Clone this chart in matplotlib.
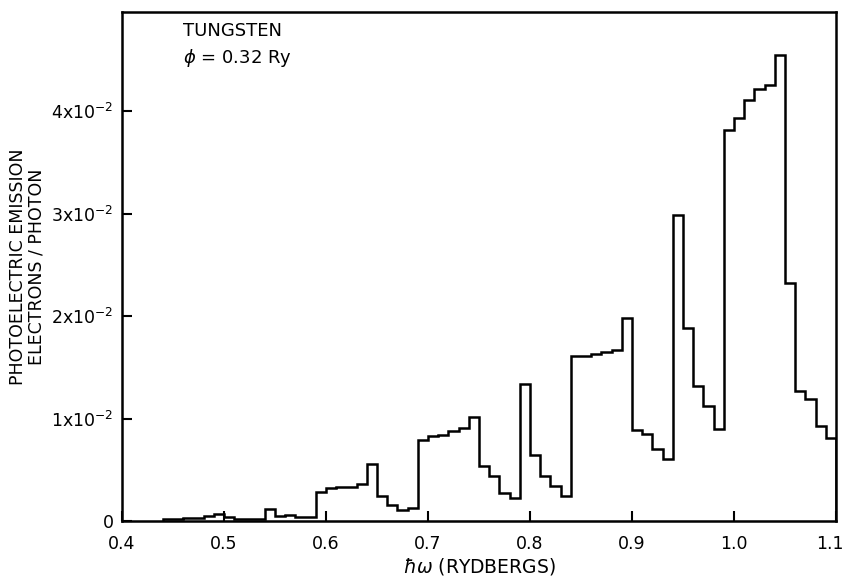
import matplotlib
matplotlib.use("Agg")
import matplotlib.pyplot as plt
import matplotlib.transforms as mtransforms
import numpy as np

# bin edges (Rydbergs) and emission yield per bin
edges = np.round(np.arange(0.44, 1.1001, 0.01), 2)
yield_ = [0.0002, 0.0002, 0.0003, 0.0003, 0.0005, 0.0007, 0.0004, 0.0002, 0.0002, 0.0002,
          0.0012, 0.0005, 0.0006, 0.0004, 0.0004, 0.0028, 0.0032, 0.0033, 0.0033, 0.0036,
          0.0056, 0.0024, 0.0016, 0.0011, 0.0013, 0.0079, 0.0083, 0.0084, 0.0088, 0.0091,
          0.0102, 0.0054, 0.0044, 0.0027, 0.0022, 0.0134, 0.0064, 0.0044, 0.0034, 0.0024,
          0.0161, 0.0161, 0.0163, 0.0165, 0.0167, 0.0198, 0.0089, 0.0085, 0.0070, 0.0061,
          0.0299, 0.0188, 0.0132, 0.0112, 0.0090, 0.0382, 0.0394, 0.0411, 0.0422, 0.0426,
          0.0455, 0.0232, 0.0127, 0.0119, 0.0093, 0.0081]

xticks = [0.4, 0.5, 0.6, 0.7, 0.8, 0.9, 1.0, 1.1]
xticklabels = ["0.4", "0.5", "0.6", "0.7", "0.8", "0.9", "1.0", "1.1"]
yticks = [0, 0.01, 0.02, 0.03, 0.04]
yticklabels = ["0", "1x10$^{-2}$", "2x10$^{-2}$", "3x10$^{-2}$", "4x10$^{-2}$"]

plt.rcParams['font.family'] = ['DejaVu Sans']
fig = plt.figure(figsize=(8.43, 5.79), dpi=100)
ax = fig.add_axes([0.1447, 0.1002, 0.8470, 0.8790])

ax.stairs(yield_, edges, baseline=0, color="black", linewidth=1.8)

ax.set_xlim(0.4, 1.1)
ax.set_ylim(0, 0.0497)
ax.set_xticks(xticks)
ax.set_xticklabels(xticklabels)
ax.set_yticks(yticks)
ax.set_yticklabels(yticklabels)
ax.tick_params(direction="in", length=7, width=1.5, labelsize=12.5)
ax.tick_params(axis="x", pad=10)
ax.tick_params(axis="y", pad=6)
for s in ax.spines.values():
    s.set_linewidth(1.8)

# keep the last x label inside the picture
last = ax.get_xticklabels()[-1]
last.set_transform(last.get_transform() +
                   mtransforms.ScaledTranslation(-6 / 100, 0, fig.dpi_scale_trans))

ax.set_xlabel(r"$\hbar\omega$ (RYDBERGS)", fontsize=13.5, labelpad=2)
ax.set_ylabel("PHOTOELECTRIC EMISSION\nELECTRONS / PHOTON", fontsize=12.5,
              labelpad=4, linespacing=1.05)

ax.text(0.085, 0.962, "TUNGSTEN", transform=ax.transAxes, fontsize=13, va="center")
ax.text(0.085, 0.910, r"$\phi$ = 0.32 Ry", transform=ax.transAxes, fontsize=13, va="center")

fig.savefig("out.png", dpi=100)
